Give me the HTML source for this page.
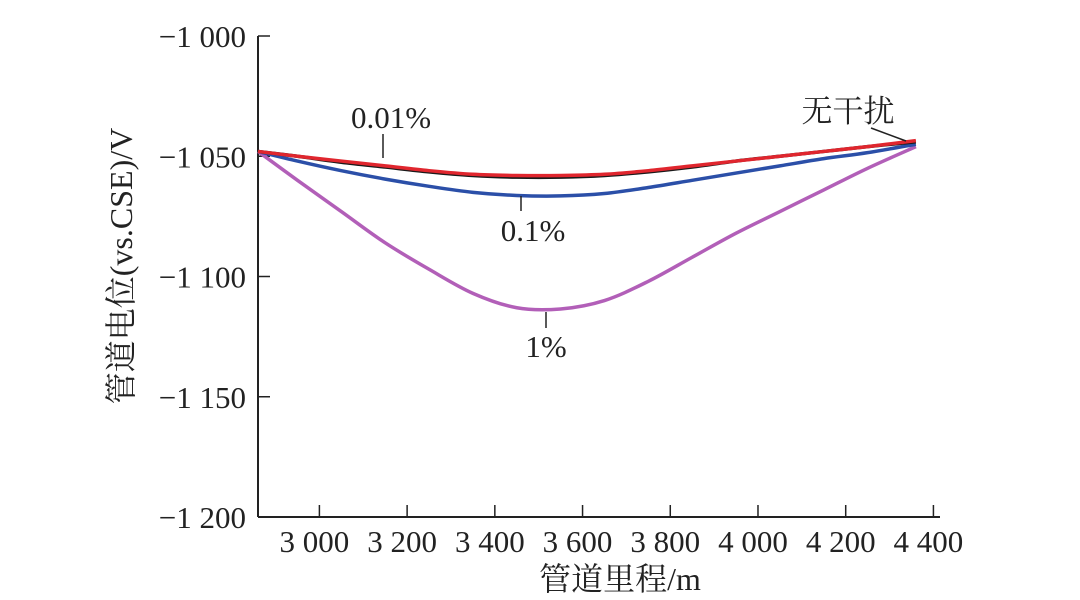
<!DOCTYPE html>
<html><head><meta charset="utf-8"><style>
html,body{margin:0;padding:0;background:#fff;}
svg{display:block;font-family:"Liberation Serif","Noto Serif CJK SC",serif;}
</style></head><body>
<svg id="chart" width="1080" height="600">
<g id="axes"></g>
<g id="series"></g>
<g id="ann"></g>
</svg>
<script>
const xs = [2860,2950,3050,3150,3250,3350,3450,3550,3650,3750,3850,3950,4050,4150,4250,4360];
const noInterf = [-1048,-1050,-1052.5,-1054.5,-1056.5,-1058,-1058.7,-1058.7,-1058,-1056.5,-1054.5,-1052,-1050,-1048,-1046,-1044];
const s001 = [-1048,-1050,-1052,-1054,-1056,-1057.5,-1058,-1058,-1057.5,-1056,-1054,-1052,-1050,-1048,-1046,-1043.5];
const s01 = [-1048,-1052,-1056,-1059.5,-1062.5,-1065,-1066.3,-1066.5,-1065.5,-1063,-1060,-1057,-1054,-1051,-1048.5,-1045];
const s1 = [-1048,-1060,-1073,-1086,-1097,-1107,-1113,-1113.5,-1110,-1102,-1092,-1082,-1073,-1064,-1055,-1046];
const xTicks = [3000,3200,3400,3600,3800,4000,4200,4400];
const xTickLabels = ["3 000","3 200","3 400","3 600","3 800","4 000","4 200","4 400"];
const yTicks = [-1000,-1050,-1100,-1150,-1200];
const yTickLabels = ["\u22121 000","\u22121 050","\u22121 100","\u22121 150","\u22121 200"];

const NS="http://www.w3.org/2000/svg";
const X0=258,X1=940,Y0=36,Y1=517;
const xmin=2860,xmax=4415,ymin=-1200,ymax=-1000;
const sx=v=>X0+(v-xmin)/(xmax-xmin)*(X1-X0);
const sy=v=>Y1-(v-ymin)/(ymax-ymin)*(Y1-Y0);
function mk(tag,attrs,parent){const e=document.createElementNS(NS,tag);for(const k in attrs)e.setAttribute(k,attrs[k]);parent.appendChild(e);return e;}
const axes=document.getElementById('axes');
let e;
e=mk('line',{x1:X0,y1:Y0,x2:X0,y2:Y1,stroke:'#222','stroke-width':2},axes);


e=mk('line',{x1:X0,y1:Y1,x2:X1,y2:Y1,stroke:'#222','stroke-width':2},axes);


xTicks.forEach((t,i)=>{
  const x=sx(t);
  e=mk('line',{x1:x,y1:Y1,x2:x,y2:Y1-12,stroke:'#222','stroke-width':1.5},axes);
  
  
  e=mk('text',{x:x-5,y:552,'text-anchor':'middle','font-size':31,fill:'#222'},axes);
  e.textContent=xTickLabels[i];
  
  
});
yTicks.forEach((t,i)=>{
  const y=sy(t);
  e=mk('line',{x1:X0,y1:y,x2:X0+12,y2:y,stroke:'#222','stroke-width':1.5},axes);
  
  
  e=mk('text',{x:246,y:y+11,'text-anchor':'end','font-size':31,fill:'#222'},axes);
  e.textContent=yTickLabels[i];
  
  
});
e=mk('text',{x:620,y:590,'text-anchor':'middle','font-size':32,fill:'#222'},axes);
e.textContent='管道里程/m';


e=mk('text',{x:0,y:0,'text-anchor':'middle','font-size':32,fill:'#222',transform:'translate(132,266) rotate(-90)'},axes);
e.textContent='管道电位(vs.CSE)/V';



function path(vals){
  const p=xs.map((x,i)=>[sx(x),sy(vals[i])]);
  let d='M'+p[0][0]+','+p[0][1];
  for(let i=0;i<p.length-1;i++){
    const a=p[Math.max(i-1,0)],b=p[i],c=p[i+1],dd=p[Math.min(i+2,p.length-1)];
    d+=` C${b[0]+(c[0]-a[0])/6},${b[1]+(c[1]-a[1])/6} ${c[0]-(dd[0]-b[0])/6},${c[1]-(dd[1]-b[1])/6} ${c[0]},${c[1]}`;
  }
  return d;
}
const ser=document.getElementById('series');
e=mk('path',{d:path(s1),fill:'none',stroke:'#b25fb8','stroke-width':3.5},ser);


e=mk('path',{d:path(s01),fill:'none',stroke:'#2b4fa8','stroke-width':3.5},ser);


e=mk('path',{d:path(noInterf),fill:'none',stroke:'#1a1a1a','stroke-width':3.5},ser);


e=mk('path',{d:path(s001),fill:'none',stroke:'#e0262e','stroke-width':3.5},ser);



const ann=document.getElementById('ann');
function label(txt,x,y,name){const t=mk('text',{x:x,y:y,'text-anchor':'middle','font-size':31,fill:'#222'},ann);t.textContent=txt;}
function lead(x1,y1,x2,y2,name){const l=mk('line',{x1,y1,x2,y2,stroke:'#222','stroke-width':1.5},ann);}
label('0.01%',391,128,'label-0.01pct');lead(383,134,383,158,'leader-0.01pct');
label('0.1%',533,241,'label-0.1pct');lead(521,196,521,211,'leader-0.1pct');
label('1%',546,357,'label-1pct');lead(546,312,546,328,'leader-1pct');
label('无干扰',848,122,'label-no-interference');lead(871,128,906,141,'leader-no-interference');
</script>
</body></html>
